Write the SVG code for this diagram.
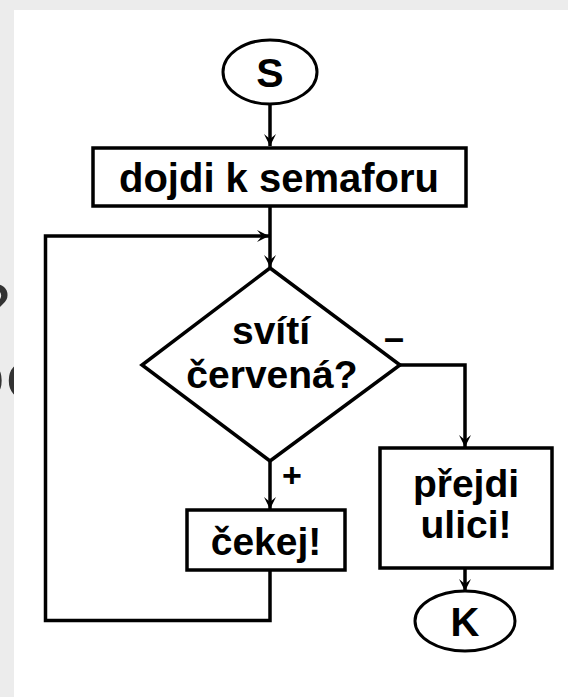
<svg xmlns="http://www.w3.org/2000/svg" width="568" height="697" viewBox="0 0 568 697">
<defs>
<style>
.bg{fill:#ececec}
.panel{fill:#ffffff}
.shape{fill:#ffffff;stroke:#000;stroke-width:3.5}
.ell{fill:#ffffff;stroke:#000;stroke-width:3}
.conn{fill:none;stroke:#000;stroke-width:3.5}
.lbl{font-family:"Liberation Sans",Arial,sans-serif;font-weight:bold;fill:#000;text-anchor:middle}
.frag{font-family:"DejaVu Sans","Noto Sans",sans-serif;fill:#333333}
</style>
<marker id="ah" viewBox="-14 -7 15 14" refX="0" refY="0" markerWidth="15" markerHeight="14" markerUnits="userSpaceOnUse" orient="auto">
<path d="M0,0 L-13,-6 L-8,0 L-13,6 Z" fill="#000"/>
</marker>
<clipPath id="leftclip"><rect x="0" y="0" width="14" height="697"/></clipPath>
</defs>
<rect class="bg" x="0" y="0" width="568" height="697"/>
<g clip-path="url(#leftclip)">
<text class="frag" x="-22" y="332" font-size="64">?</text>
<text class="frag" x="-34" y="398" font-size="64">oc</text>
</g>
<rect class="panel" x="14" y="10" width="554" height="687"/>

<g id="connectors">
<line class="conn" x1="270" y1="104" x2="270" y2="146"/>
<path d="M270,146 L264,134 L270,139 L276,134 Z"/>
<line class="conn" x1="270" y1="206" x2="270" y2="267"/>
<path d="M270,267 L264,255 L270,260 L276,255 Z"/>
<polyline class="conn" points="270,570 270,620.5 45.5,620.5 45.5,236 270,236"/>
<path d="M269,236 L257,230 L262,236 L257,242 Z"/>
<line class="conn" x1="270" y1="461" x2="270" y2="509"/>
<path d="M270,509 L264,497 L270,502 L276,497 Z"/>
<polyline class="conn" points="400,365 465,365 465,447"/>
<path d="M465,447 L459,435 L465,440 L471,435 Z"/>
<line class="conn" x1="465" y1="568" x2="465" y2="591"/>
<path d="M465,591 L459,579 L465,584 L471,579 Z"/>
<text class="lbl" x="394" y="350" font-size="36">–</text>
<text class="lbl" x="292" y="487" font-size="34">+</text>
</g>

<g id="start">
<ellipse class="ell" cx="270" cy="72" rx="47" ry="32"/>
<text class="lbl" x="270" y="87" font-size="41">S</text>
</g>
<g id="go-to-lights">
<rect class="shape" x="93" y="148" width="373" height="58"/>
<text class="lbl" x="279" y="192" font-size="40">dojdi k semaforu</text>
</g>
<g id="is-red">
<polygon class="shape" points="270,268 400,365 270,461 142,365"/>
<text class="lbl" x="271" y="344" font-size="39">svítí</text>
<text class="lbl" x="272" y="388" font-size="39">červená?</text>
</g>
<g id="wait">
<rect class="shape" x="187" y="510" width="158" height="60"/>
<text class="lbl" x="266" y="555" font-size="39">čekej!</text>
</g>
<g id="cross">
<rect class="shape" x="380" y="448" width="172" height="120"/>
<text class="lbl" x="466" y="497" font-size="39">přejdi</text>
<text class="lbl" x="466" y="538" font-size="39">ulici!</text>
</g>
<g id="end">
<ellipse class="ell" cx="465" cy="621" rx="50" ry="30"/>
<text class="lbl" x="465" y="636" font-size="40">K</text>
</g>
</svg>
